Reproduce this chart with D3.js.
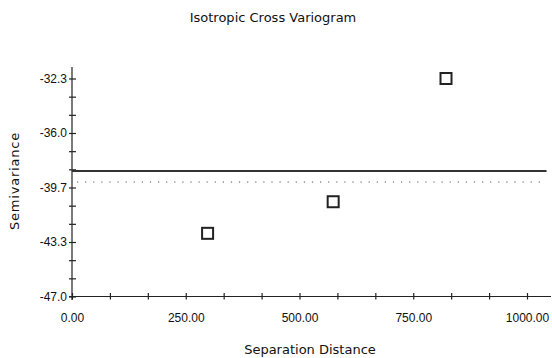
<!DOCTYPE html>
<html>
<head>
<meta charset="utf-8">
<script src="https://cdn.jsdelivr.net/npm/d3@7"></script>
<style>
  html, body { margin: 0; padding: 0; background: #fff; }
  svg { display: block; font-family: "DejaVu Sans", Verdana, sans-serif; }
  .axis text { font-size: 12px; fill: #111; }
</style>
</head>
<body>
<svg id="chart" width="552" height="358"></svg>
<script>
// Empirical cross-variogram estimates
const lagDistance = [298, 574, 822];
const semivariance = [-42.74, -40.61, -32.3];

// Reference levels: fitted sill (solid) and sample value (dotted)
const sillLevel = [-38.54];
const sampleLevel = [-39.28];

// Axis ticks
const xTicks = d3.range(0, 13).map(i => i * 1000 / 12);
const xTickLabels = ["0.00", "250.00", "500.00", "750.00", "1000.00"];
const yTicks = d3.range(0, 13).map(i => -47 + i * 14.7 / 12);
const yTickLabels = ["-47.0", "-43.3", "-39.7", "-36.0", "-32.3"];

const svg = d3.select("#chart");

const x = d3.scaleLinear().domain([0, 1000]).range([72, 527]);
const y = d3.scaleLinear().domain([-47, -32.3]).range([296.5, 78.5]);

const xMax = x.invert(551);
const yMax = y.invert(67);

// Axis lines
svg.append("line")
  .attr("x1", x(0) - 3).attr("x2", x(xMax))
  .attr("y1", y(-47)).attr("y2", y(-47))
  .attr("stroke", "#222").attr("stroke-width", 1.2);
svg.append("line")
  .attr("x1", x(0)).attr("x2", x(0))
  .attr("y1", y(yMax)).attr("y2", y(-47) + 3.5)
  .attr("stroke", "#222").attr("stroke-width", 1.2);

// X axis with ticks crossing the line
const xAxis = d3.axisBottom(x)
  .tickValues(xTicks)
  .tickSizeInner(3)
  .tickSizeOuter(0)
  .tickPadding(14)
  .tickFormat((d, i) => (i % 3 === 0 ? xTickLabels[i / 3] : ""));
const gx = svg.append("g").attr("class", "axis")
  .attr("transform", `translate(0,${y(-47)})`)
  .call(xAxis);
gx.select(".domain").remove();
gx.selectAll(".tick line").attr("y1", -3.5).attr("stroke", "#222").attr("stroke-width", 1.2);
gx.selectAll(".tick text").attr("font-size", 12);

// Y axis with ticks crossing the line
const yAxis = d3.axisLeft(y)
  .tickValues(yTicks)
  .tickSizeInner(3)
  .tickSizeOuter(0)
  .tickPadding(2)
  .tickFormat((d, i) => (i % 3 === 0 ? yTickLabels[i / 3] : ""));
const gy = svg.append("g").attr("class", "axis")
  .attr("transform", `translate(${x(0)},0)`)
  .call(yAxis);
gy.select(".domain").remove();
gy.selectAll(".tick line").attr("x1", 4).attr("stroke", "#222").attr("stroke-width", 1.2);
gy.selectAll(".tick text").attr("font-size", 12);

// Sill line
svg.selectAll(".sill").data(sillLevel).enter().append("line")
  .attr("class", "sill")
  .attr("x1", x(0)).attr("x2", x(1043))
  .attr("y1", d => y(d)).attr("y2", d => y(d))
  .attr("stroke", "#333").attr("stroke-width", 2);

// Sample level (dotted)
svg.selectAll(".sample").data(sampleLevel).enter().append("line")
  .attr("class", "sample")
  .attr("x1", x(0) + 5).attr("x2", x(1032))
  .attr("y1", d => y(d)).attr("y2", d => y(d))
  .attr("stroke", "#555").attr("stroke-width", 1.2)
  .attr("stroke-dasharray", "1.2,6.9");

// Variogram points as open squares
const pts = lagDistance.map((d, i) => ({ x: d, y: semivariance[i] }));
svg.selectAll(".pt").data(pts).enter().append("rect")
  .attr("class", "pt")
  .attr("x", d => x(d.x) - 5.5).attr("y", d => y(d.y) - 5.5)
  .attr("width", 11).attr("height", 11)
  .attr("fill", "none").attr("stroke", "#222").attr("stroke-width", 2);

// Titles
svg.append("text")
  .attr("x", 273).attr("y", 22)
  .attr("text-anchor", "middle")
  .attr("font-size", 13).attr("fill", "#111")
  .text("Isotropic Cross Variogram");

svg.append("text")
  .attr("x", 310).attr("y", 354)
  .attr("text-anchor", "middle")
  .attr("font-size", 13).attr("fill", "#111")
  .text("Separation Distance");

svg.append("text")
  .attr("transform", "translate(19,181) rotate(-90)")
  .attr("text-anchor", "middle")
  .attr("font-size", 13).attr("letter-spacing", 0.8).attr("fill", "#111")
  .text("Semivariance");
</script>
</body>
</html>
